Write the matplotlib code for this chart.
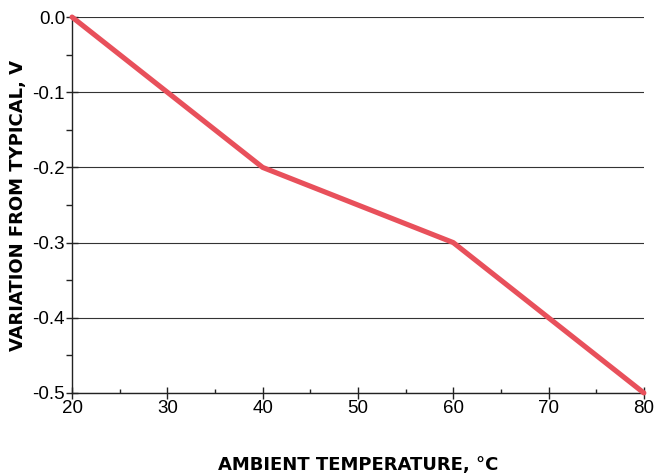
import matplotlib
matplotlib.use("Agg")
import matplotlib.pyplot as plt
from matplotlib.ticker import MultipleLocator

temps = [20, 40, 60, 80]
variation = [0.0, -0.2, -0.3, -0.5]
x_ticks = [20, 30, 40, 50, 60, 70, 80]
y_ticks = [0.0, -0.1, -0.2, -0.3, -0.4, -0.5]

plt.rcParams['font.family'] = ['Liberation Sans', 'DejaVu Sans']

fig = plt.figure(figsize=(6.55, 4.74), dpi=100)
ax = fig.add_axes([0.110, 0.171, 0.873, 0.793])

ax.plot(temps, variation, color='#E8505B', lw=3.7, solid_capstyle='round', zorder=3, clip_on=False)

ax.set_xlim(20, 80)
ax.set_ylim(-0.5, 0.0)
ax.set_xticks(x_ticks)
ax.set_yticks(y_ticks)
ax.set_yticklabels([f"{v:.1f}" for v in y_ticks])
ax.xaxis.set_minor_locator(MultipleLocator(5))
ax.yaxis.set_minor_locator(MultipleLocator(0.05))

ax.grid(axis='y', which='major', color='#333333', lw=0.8)
ax.spines['top'].set_visible(False)
ax.spines['right'].set_visible(False)
for s in ['left', 'bottom']:
    ax.spines[s].set_color('#222222')
    ax.spines[s].set_linewidth(1.0)

ax.tick_params(axis='both', which='major', direction='inout', length=8, width=1, labelsize=13.5, color='#222222', pad=1)
ax.tick_params(axis='x', which='minor', direction='in', length=3, width=1, color='#222222')
ax.tick_params(axis='y', which='minor', direction='out', length=4, width=1, color='#222222')

ax.set_xlabel('AMBIENT TEMPERATURE, °C', fontsize=13, fontweight='bold', labelpad=28,
              family=['DejaVu Sans'])
ax.set_ylabel('VARIATION FROM TYPICAL, V', fontsize=13, fontweight='bold', labelpad=4,
              family=['DejaVu Sans'])

fig.savefig('out.png', dpi=100)
